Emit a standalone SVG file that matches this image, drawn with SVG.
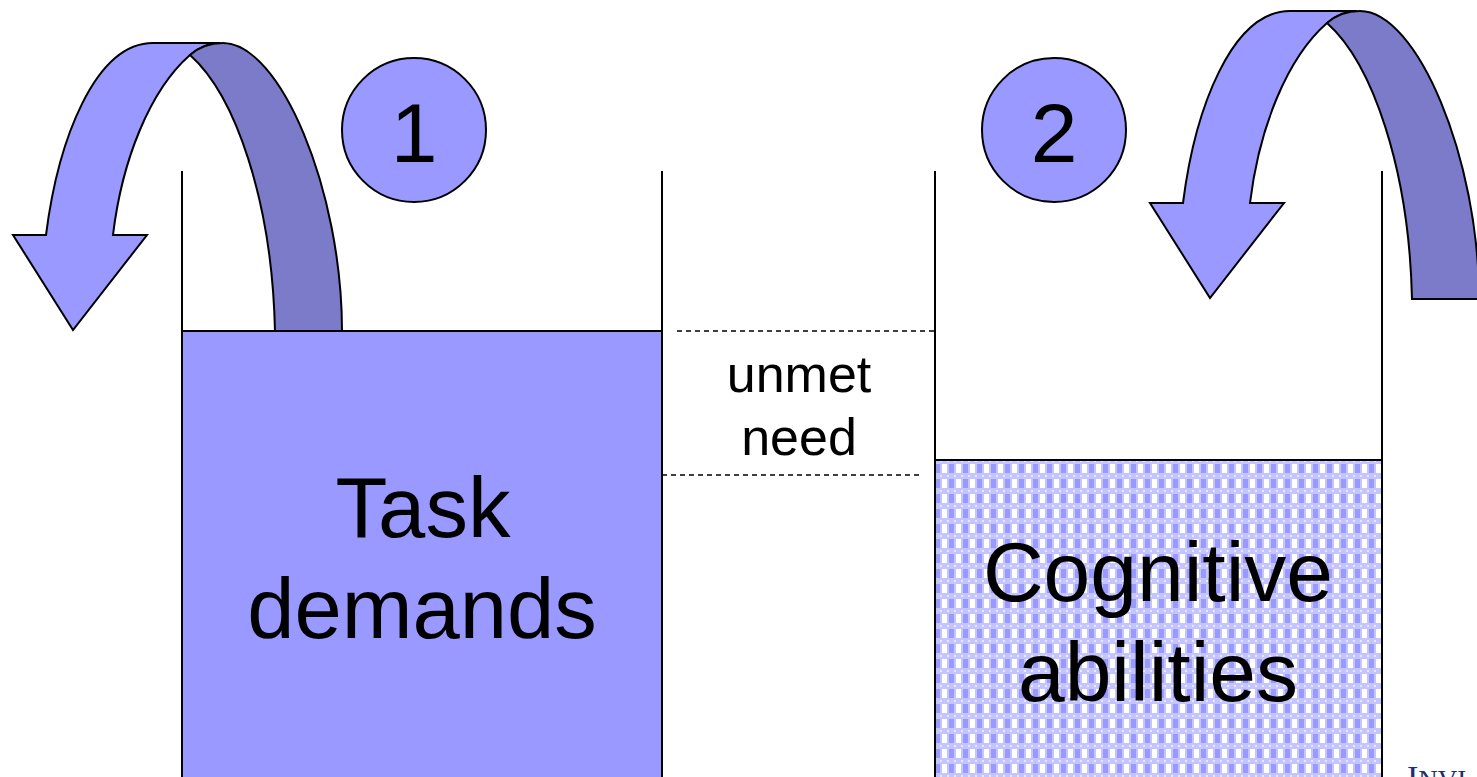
<svg xmlns="http://www.w3.org/2000/svg" xmlns:xlink="http://www.w3.org/1999/xlink" width="1477" height="777" viewBox="0 0 1477 777">
  <style>
    .wall { stroke: #000; stroke-width: 2; fill: none; }
    .dash { stroke: #000; stroke-width: 1.5; stroke-dasharray: 5 4; fill: none; }
    .front { fill: #9999ff; stroke: #000; stroke-width: 2; stroke-linejoin: miter; }
    .back { fill: #7b7bc9; stroke: #000; stroke-width: 2; }
    .badge { fill: #9999ff; stroke: #000; stroke-width: 2; }
    .lbl { font-family: "Liberation Sans", Arial, sans-serif; fill: #000; text-anchor: middle; }
  </style>
  <defs>
    <!-- checked fill for the abilities level -->
    <pattern id="check" x="935" y="460" width="14" height="15" patternUnits="userSpaceOnUse">
      <rect width="14" height="15" fill="#c4c4ff"/>
      <rect x="0" y="4" width="5" height="9" fill="#9999ff"/>
      <rect x="7" y="4" width="5" height="9" fill="#ffffff"/>
      <rect x="5" y="0" width="2" height="2" fill="#e8e8ff"/>
      <rect x="12" y="0" width="2" height="2" fill="#e8e8ff"/>
    </pattern>
    <!-- curved U-turn arrow: front ribbon + back ribbon -->
    <g id="uturn">
      <path class="front" d="M153,43 L220,43 C207,43 197,49 190,55 C150,90 122,160 113,235 L147,235 L73,330 L13,235 L46,235 C58,140 95,43 153,43 Z"/>
      <path class="back" d="M190,55 C198,48 208,43 223,43 C280,43 342,190 342,331 L275,331 C272,200 235,95 190,55 Z"/>
    </g>
  </defs>

  <rect width="1477" height="777" fill="#ffffff"/>

  <!-- task demands container -->
  <g id="task-demands">
    <rect x="182" y="331" width="480" height="460" fill="#9999ff" stroke="#000" stroke-width="2"/>
    <line class="wall" x1="182" y1="171" x2="182" y2="777"/>
    <line class="wall" x1="662" y1="171" x2="662" y2="777"/>
    <text class="lbl" x="423" y="537" font-size="85">Task</text>
    <text class="lbl" x="422" y="638" font-size="85">demands</text>
  </g>

  <!-- cognitive abilities container -->
  <g id="cognitive-abilities">
    <rect x="935" y="460" width="447" height="330" fill="url(#check)" stroke="#000" stroke-width="2"/>
    <line class="wall" x1="935" y1="171" x2="935" y2="777"/>
    <line class="wall" x1="1382" y1="171" x2="1382" y2="777"/>
    <text class="lbl" x="1158" y="601" font-size="84">Cognitive</text>
    <text class="lbl" x="1158" y="701" font-size="84">abilities</text>
  </g>

  <!-- gap between the two levels -->
  <g id="connectors">
    <line class="dash" x1="677" y1="331" x2="935" y2="331"/>
    <line class="dash" x1="662" y1="475" x2="921" y2="475"/>
  </g>
  <g id="unmet-need">
    <text class="lbl" x="799" y="392" font-size="52">unmet</text>
    <text class="lbl" x="799" y="455" font-size="52">need</text>
  </g>

  <!-- step arrows -->
  <g id="arrow-1">
    <use xlink:href="#uturn"/>
  </g>
  <g id="arrow-2">
    <use xlink:href="#uturn" transform="translate(1137,-32)"/>
  </g>

  <!-- step badges -->
  <g id="step-1">
    <circle class="badge" cx="414" cy="130" r="72"/>
    <text class="lbl" x="414" y="162" font-size="84">1</text>
  </g>
  <g id="step-2">
    <circle class="badge" cx="1054" cy="130" r="72"/>
    <text class="lbl" x="1054" y="162" font-size="84">2</text>
  </g>

  <!-- footer wordmark, running off the bottom edge of the page -->
  <g id="wordmark">
    <text x="1407" y="789" font-family="'Liberation Serif', 'Times New Roman', serif" font-size="34" fill="#1c2f6e">I<tspan font-size="27">NVI</tspan></text>
  </g>
</svg>
